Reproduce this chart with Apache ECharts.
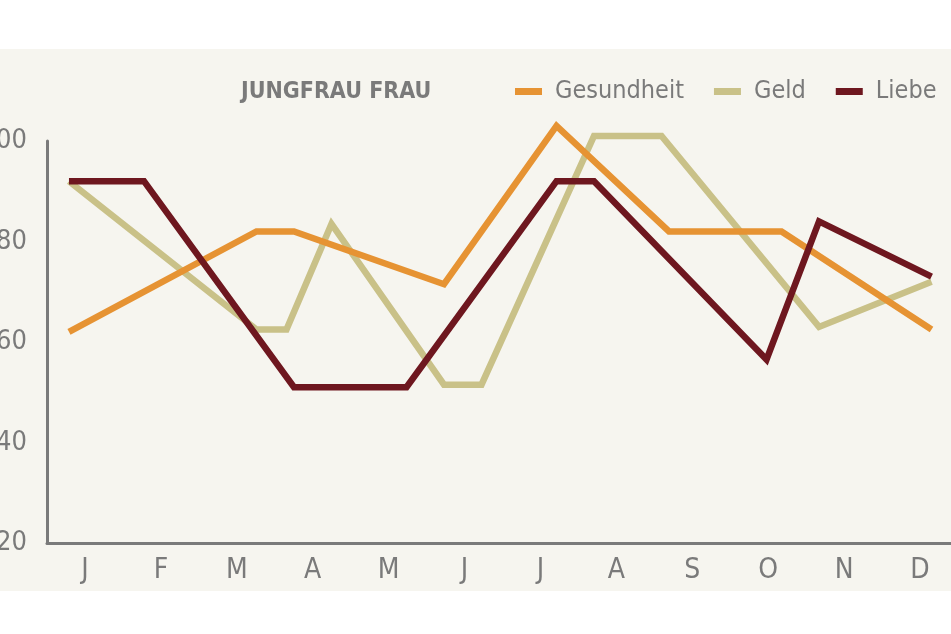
<!DOCTYPE html>
<html>
<head>
<meta charset="utf-8">
<title>Jungfrau Frau</title>
<script src="https://cdn.jsdelivr.net/npm/echarts@6/dist/echarts.min.js"></script>
<style>
  html, body { margin: 0; padding: 0; background: #fff; }
  #chart {
    width: 951px;
    height: 634px;
    background: linear-gradient(to bottom, #fff 0, #fff 49px, #f6f5ef 49px, #f6f5ef 591px, #fff 591px);
  }
</style>
</head>
<body>
<div id="chart"></div>
<script>
// month labels on the axis
var months = ['J', 'F', 'M', 'A', 'M', 'J', 'J', 'A', 'S', 'O', 'N', 'D'];
var yTicks = [20, 40, 60, 80, 100];

// x positions are in months (0 = start of January)
var gesundheitX = [0, 2.5, 3, 5, 6.5, 8, 9.5, 11.5];
var gesundheitY = [62, 82, 82, 71.5, 103, 82, 82, 62.5];

var geldX = [0, 2.5, 2.9, 3.5, 5, 5.5, 7, 7.9, 10, 11.5];
var geldY = [92, 62.5, 62.5, 83.5, 51.5, 51.5, 101, 101, 63, 72];

var liebeX = [0, 1, 3, 4.5, 6.5, 7, 9.3, 10, 11.5];
var liebeY = [92, 92, 51, 51, 92, 92, 56.5, 84, 73];

var FONT = '"DejaVu Sans Condensed", "Liberation Sans Narrow", "Roboto", sans-serif';
var GREY = '#7a7a7a';

function pairs(xs, ys) {
  var out = [];
  for (var i = 0; i < xs.length; i++) {
    out.push([xs[i], ys[i]]);
  }
  return out;
}

function lineSeries(name, xs, ys, color, z) {
  return {
    name: name,
    type: 'line',
    xAxisIndex: 1,
    data: pairs(xs, ys),
    showSymbol: false,
    symbol: 'none',
    clip: false,
    z: z,
    itemStyle: { color: color },
    lineStyle: { color: color, width: 6.5, join: 'miter', miterLimit: 10 },
    animation: false
  };
}

var chart = echarts.init(document.getElementById('chart'));

var option = {
  backgroundColor: 'transparent',
  animation: false,
  title: {
    text: 'JUNGFRAU FRAU',
    left: 236,
    top: 76,
    textStyle: { fontFamily: FONT, fontSize: 23, fontWeight: 'bold', color: GREY }
  },
  legend: {
    data: ['Gesundheit', 'Geld', 'Liebe'],
    left: 510,
    top: 74,
    width: 600,
    icon: 'rect',
    itemWidth: 27,
    itemHeight: 7,
    itemGap: 30,
    textStyle: { fontFamily: FONT, fontSize: 25, color: GREY, padding: [0, 0, 0, 8] }
  },
  grid: { left: 47, right: -7, top: 141, bottom: 91, containLabel: false, outerBoundsMode: 'none' },
  xAxis: [
    {
      type: 'category',
      data: months,
      boundaryGap: true,
      axisLine: { show: true, onZero: false, lineStyle: { color: GREY, width: 3 } },
      axisTick: { show: false },
      axisLabel: { fontFamily: FONT, fontSize: 28, color: GREY, margin: 14 },
      splitLine: { show: false }
    },
    {
      type: 'value',
      min: -0.293,
      max: 11.853,
      show: false,
      splitLine: { show: false }
    }
  ],
  yAxis: {
    type: 'value',
    min: yTicks[0],
    max: yTicks[yTicks.length - 1],
    interval: 20,
    axisLine: { show: true, onZero: false, lineStyle: { color: GREY, width: 3 } },
    axisTick: { show: false },
    splitLine: { show: false },
    axisLabel: { fontFamily: FONT, fontSize: 27, color: GREY, margin: 20 }
  },
  series: [
    lineSeries('Gesundheit', gesundheitX, gesundheitY, '#e69333', 3),
    lineSeries('Geld', geldX, geldY, '#c9c188', 2),
    lineSeries('Liebe', liebeX, liebeY, '#6e171f', 4)
  ]
};

chart.setOption(option);
</script>
</body>
</html>
